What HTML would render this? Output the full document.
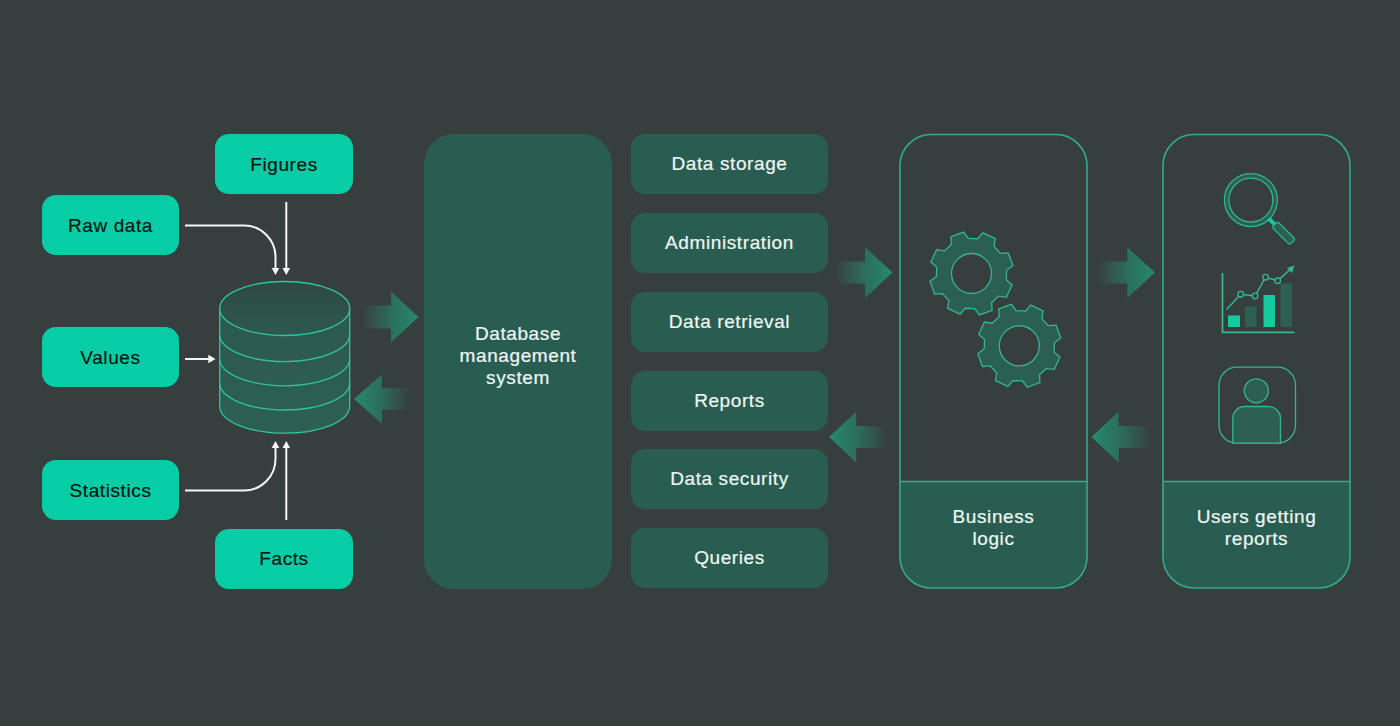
<!DOCTYPE html>
<html><head><meta charset="utf-8">
<style>
html,body{margin:0;padding:0;}
body{width:1400px;height:726px;background:#373f3e;position:relative;overflow:hidden;font-family:"Liberation Sans",sans-serif;}
.b{position:absolute;display:flex;align-items:center;justify-content:center;text-align:center;font-size:19px;line-height:22px;letter-spacing:0.6px;}
.c{background:#06cda5;color:#0b1612;padding-top:1px;box-sizing:border-box;border-radius:14px;width:137px;height:60px;}
.d{background:#2a5d51;color:#eef7f3;border-radius:14px;left:631px;width:197px;height:60px;}
svg{position:absolute;left:0;top:0;}
.b,.t{-webkit-text-stroke:0.2px currentColor;}
.t{position:absolute;text-align:center;font-size:19px;line-height:22.3px;letter-spacing:0.6px;color:#eef7f3;}
</style></head><body>
<div class="b c" style="left:215px;top:134px;width:138px;">Figures</div>
<div class="b c" style="left:42px;top:195px;">Raw data</div>
<div class="b c" style="left:42px;top:327px;">Values</div>
<div class="b c" style="left:42px;top:460px;">Statistics</div>
<div class="b c" style="left:215px;top:528.5px;width:138px;height:60.5px;">Facts</div>

<div style="position:absolute;left:424px;top:134px;width:188px;height:455px;background:#2a5d51;border-radius:30px;"></div>
<div class="t" style="left:424px;top:322.5px;width:188px;">Database<br>management<br>system</div>

<div class="b d" style="top:134px;">Data storage</div>
<div class="b d" style="top:213px;">Administration</div>
<div class="b d" style="top:292px;">Data retrieval</div>
<div class="b d" style="top:371px;">Reports</div>
<div class="b d" style="top:449px;">Data security</div>
<div class="b d" style="top:528px;">Queries</div>

<svg width="1400" height="726" viewBox="0 0 1400 726">
<defs>
<linearGradient id="gr" x1="0" x2="1" y1="0" y2="0"><stop offset="0" stop-color="#2a7560" stop-opacity="0"/><stop offset="0.52" stop-color="#2a7260" stop-opacity="0.92"/><stop offset="1" stop-color="#27896e"/></linearGradient>
<linearGradient id="gl" x1="1" x2="0" y1="0" y2="0"><stop offset="0" stop-color="#2a7560" stop-opacity="0"/><stop offset="0.52" stop-color="#2a7260" stop-opacity="0.92"/><stop offset="1" stop-color="#27896e"/></linearGradient>
</defs>
<!-- left connectors -->
<g fill="none" stroke="#f4f6f5" stroke-width="2">
<path d="M185,225.5 H244 A31.5,31.5 0 0 1 275.5,257 V268"/>
<path d="M286.3,202 V268"/>
<path d="M185,359 H209"/>
<path d="M185,490.5 H244 A31.5,31.5 0 0 0 275.5,459 V448"/>
<path d="M286.3,520 V448"/>
</g>
<g fill="#f4f6f5">
<path d="M271.7,268 H279.3 L275.5,275 Z"/>
<path d="M282.5,268 H290.1 L286.3,275 Z"/>
<path d="M208.3,354.8 V363.2 L215.5,359 Z"/>
<path d="M271.7,448 H279.3 L275.5,441 Z"/>
<path d="M282.5,448 H290.1 L286.3,441 Z"/>
</g>
<!-- cylinder -->
<linearGradient id="cyt" x1="0" x2="0" y1="0" y2="1"><stop offset="0" stop-color="#2f4743"/><stop offset="1" stop-color="#2c5a50"/></linearGradient>
<linearGradient id="cys" x1="0" x2="0" y1="0" y2="1"><stop offset="0" stop-color="#2c5850"/><stop offset="1" stop-color="#2d6054"/></linearGradient>
<g stroke="#31c49c" stroke-width="1.3">
<path fill="url(#cys)" d="M219.7,308.5 V406.2 A65,27 0 0 0 349.7,406.2 V308.5 Z"/>
<ellipse cx="284.7" cy="308.5" rx="65" ry="27" fill="url(#cyt)"/>
<path fill="none" d="M219.7,334.6 A65,27 0 0 0 349.7,334.6"/>
<path fill="none" d="M219.7,358.8 A65,27 0 0 0 349.7,358.8"/>
<path fill="none" d="M219.7,383 A65,27 0 0 0 349.7,383"/>
</g>
<!-- fat arrows -->
<path fill="url(#gr)" d="M362,305.5 H391 V291.6 L418.5,317 L391,342.4 V328.5 H362 Z"/>
<path fill="url(#gl)" d="M409,388.2 H382 V374.2 L354,399 L382,423.8 V409.8 H409 Z"/>
<path fill="url(#gr)" d="M835,261.6 H865 V247.20000000000002 L892.5,272.6 L865,298.0 V283.6 H835 Z"/>
<path fill="url(#gl)" d="M886.5,426.1 H856.1 V411.70000000000005 L829.2,437.1 L856.1,462.5 V448.1 H886.5 Z"/>
<path fill="url(#gr)" d="M1097.5,261.6 H1127.4 V247.20000000000002 L1154.9,272.6 L1127.4,298.0 V283.6 H1097.5 Z"/>
<path fill="url(#gl)" d="M1150.5,426.1 H1118.7 V411.70000000000005 L1091.3,437.1 L1118.7,462.5 V448.1 H1150.5 Z"/>
<!-- business box -->
<path d="M900,481.5 H1087 V557 A31,31 0 0 1 1056,588 H931 A31,31 0 0 1 900,557 Z" fill="#2a5d51"/>
<rect x="900" y="134.5" width="187" height="453.5" rx="31" fill="none" stroke="#34ab8b" stroke-width="1.6"/>
<path d="M900,481.5 H1087" stroke="#34ab8b" stroke-width="1.6"/>
<!-- users box -->
<path d="M1163,481.5 H1350 V557 A31,31 0 0 1 1319,588 H1194 A31,31 0 0 1 1163,557 Z" fill="#2a5d51"/>
<rect x="1163" y="134.5" width="187" height="453.5" rx="31" fill="none" stroke="#34ab8b" stroke-width="1.6"/>
<path d="M1163,481.5 H1350" stroke="#34ab8b" stroke-width="1.6"/>
<!-- gears -->
<g fill="#2c5f53" stroke="#30b892" stroke-width="1.3">
<path fill-rule="evenodd" d="M951.35,244.51 L950.85,236.70 L963.66,232.03 L968.30,238.35 L977.75,238.76 L982.92,232.87 L995.28,238.64 L994.10,246.38 L1000.49,253.35 L1008.30,252.85 L1012.97,265.66 L1006.65,270.30 L1006.24,279.75 L1012.13,284.92 L1006.36,297.28 L998.62,296.10 L991.65,302.49 L992.15,310.30 L979.34,314.97 L974.70,308.65 L965.25,308.24 L960.08,314.13 L947.72,308.36 L948.90,300.62 L942.51,293.65 L934.70,294.15 L930.03,281.34 L936.35,276.70 L936.76,267.25 L930.87,262.08 L936.64,249.72 L944.38,250.90 Z M991.5,273.5 A20,20 0 1 0 951.5,273.5 A20,20 0 1 0 991.5,273.5 Z"/>
<path fill-rule="evenodd" d="M999.15,316.81 L998.65,309.00 L1011.46,304.33 L1016.10,310.65 L1025.55,311.06 L1030.72,305.17 L1043.08,310.94 L1041.90,318.68 L1048.29,325.65 L1056.10,325.15 L1060.77,337.96 L1054.45,342.60 L1054.04,352.05 L1059.93,357.22 L1054.16,369.58 L1046.42,368.40 L1039.45,374.79 L1039.95,382.60 L1027.14,387.27 L1022.50,380.95 L1013.05,380.54 L1007.88,386.43 L995.52,380.66 L996.70,372.92 L990.31,365.95 L982.50,366.45 L977.83,353.64 L984.15,349.00 L984.56,339.55 L978.67,334.38 L984.44,322.02 L992.18,323.20 Z M1039.3,345.8 A20,20 0 1 0 999.3,345.8 A20,20 0 1 0 1039.3,345.8 Z"/>
</g>
<!-- magnifier -->
<g stroke="#33b790" stroke-width="1.25">
<path fill="#2d6052" fill-rule="evenodd" d="M1277.4,200 A26.5,26.5 0 1 0 1224.4,200 A26.5,26.5 0 1 0 1277.4,200 Z M1272.9,200 A22,22 0 1 0 1228.9,200 A22,22 0 1 0 1272.9,200 Z"/>
<path d="M1268.5,218.5 L1275,224.5" stroke-width="4" stroke="#12cb9e"/>
<rect x="-4" y="-12.5" width="8" height="25" rx="2.4" fill="#2d6052" transform="translate(1283.6,233.2) rotate(-45)"/>
</g>
<!-- chart -->
<g>
<path d="M1222.5,273 V332.4 H1294.5" fill="none" stroke="#33b790" stroke-width="1.8"/>
<rect x="1228" y="315.5" width="12" height="11.5" fill="#12cb9e"/>
<rect x="1245" y="306.5" width="11.5" height="20.5" fill="#2d6052"/>
<rect x="1263.5" y="295" width="11.5" height="32" fill="#12cb9e"/>
<rect x="1280.5" y="283.5" width="11.5" height="43.5" fill="#2d6052"/>
<path d="M1226.5,309.5 L1240.7,294.2 L1255.1,296 L1265.6,277.2 L1277.7,280.8 L1290,269.5" fill="none" stroke="#33b790" stroke-width="1.5"/>
<path d="M1294.5,265.5 L1287,268 L1292,273 Z" fill="#33b790"/>
<g fill="#373f3e" stroke="#33b790" stroke-width="1.3">
<circle cx="1240.7" cy="294.2" r="2.8"/><circle cx="1255.1" cy="296" r="2.8"/><circle cx="1265.6" cy="277.2" r="2.8"/><circle cx="1277.7" cy="280.8" r="2.8"/>
</g>
</g>
<!-- person -->
<g stroke="#33b790" stroke-width="1.3">
<rect x="1219" y="367.2" width="76.5" height="76" rx="18" fill="none"/>
<path d="M1232.8,443.2 V418.5 A12,12 0 0 1 1244.8,406.5 H1268.5 A12,12 0 0 1 1280.5,418.5 V443.2 Z" fill="#2d6052"/>
<circle cx="1256.3" cy="390.8" r="12" fill="#2d6052"/>
</g>
</svg>
<div class="t" style="left:900px;top:505.5px;width:187px;">Business<br>logic</div>
<div class="t" style="left:1163px;top:505.5px;width:187px;">Users getting<br>reports</div>
</body></html>
